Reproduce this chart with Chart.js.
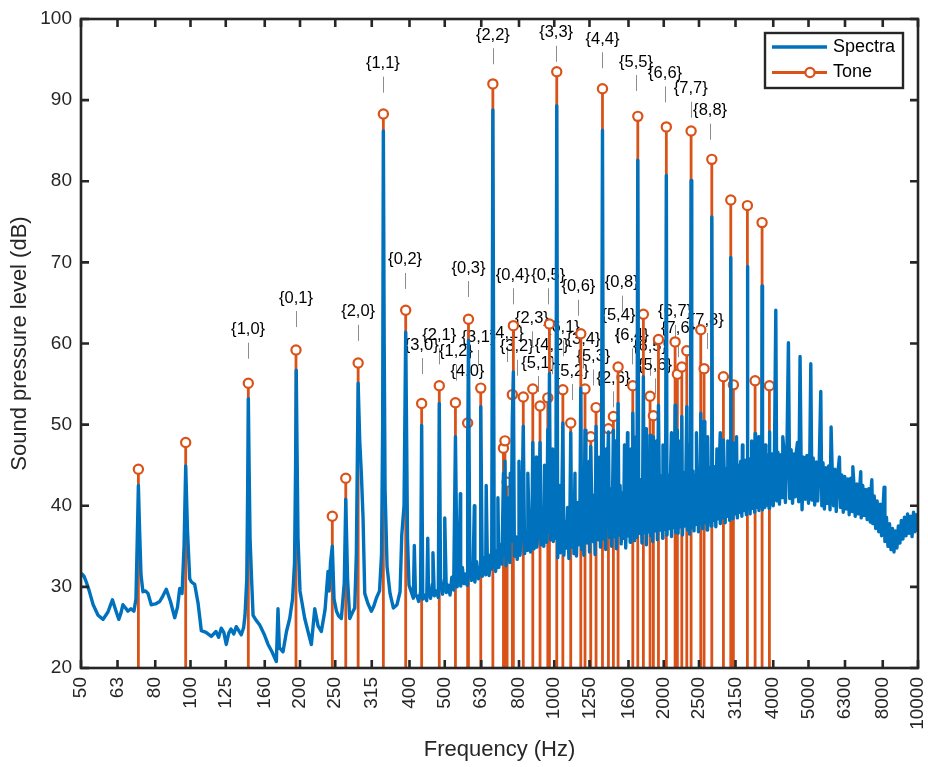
<!DOCTYPE html>
<html>
<head>
<meta charset="utf-8">
<script src="https://cdn.jsdelivr.net/npm/chart.js@4.4.0/dist/chart.umd.min.js"></script>
<style>
  html, body { margin: 0; padding: 0; background: #fff; }
  canvas { display: block; }
</style>
</head>
<body>
<canvas id="chart" width="928" height="767"></canvas>
<script>
// third-octave tick marks on the frequency axis
const xTicks = [50, 63, 80, 100, 125, 160, 200, 250, 315, 400, 500, 630, 800, 1000, 1250, 1600, 2000, 2500, 3150, 4000, 5000, 6300, 8000, 10000];

// spectrum below ~415 Hz, traced point by point [Hz, dB]
const spectraLow = [
  [50,31.4],[50.3,31.6],[51,31.3],[51.7,30.6],[52.6,29.6],[54.0,27.8],[55.7,26.5],[57.5,26.0],[59.3,26.9],[61.0,28.4],
  [62.2,27.2],[63.5,26.0],[64.4,26.8],[65.2,27.8],[66.3,27.4],[67.3,27.0],[68.6,27.3],[69.9,27.0],[70.8,28.5],[71.4,36],
  [71.9,42.5],[72.4,37.5],[73.1,31.5],[74.0,29.4],[75.2,29.5],[76.4,29.2],[78.0,27.8],[80.1,27.9],[82.3,28.2],[84.0,28.9],
  [85.8,29.7],[88.1,28.2],[90.5,26.2],[92.1,27.5],[93.4,29.8],[94.8,29.2],[96.0,35],[97.0,44.9],[98.1,37],[99.5,31.0],
  [100.6,30.6],[102.7,30.3],[104.9,28.0],[107.1,24.6],[110.3,24.4],[114.1,23.9],[117.5,24.5],[119.5,23.8],[121.5,24.9],[123.5,24.4],
  [125.4,22.9],[127.4,24.3],[129.2,24.8],[131.5,24.2],[133.6,25.1],[135.7,24.6],[137.9,24.1],[140.0,25.0],[141.2,26.5],[142.8,31],
  [143.6,42],[144.2,53.2],[145.0,44],[145.8,36],[147.2,31.0],[148.6,26.5],[151.4,25.9],[155.0,25.3],[159.3,24.2],[163.4,22.9],
  [167.5,22.0],[172.2,20.8],[174.0,27.3],[175.5,22.5],[179.6,22.0],[183.6,24.5],[187.4,26.1],[190.8,28.5],[193.2,33],[194.5,45],
  [195.3,56.7],[196.3,47],[197.5,36],[200.0,29.5],[206.1,26.1],[210.4,24.5],[214.9,22.9],[219.6,27.3],[224.2,25.2],[228.9,24.5],
  [234.4,27.2],[238.8,31.9],[240.5,29.5],[242.6,33.0],[245.4,35.0],[248.1,28.5],[252.0,27.0],[255.5,26.4],[259.8,26.1],[264.7,30.5],
  [267.2,40.8],[270.3,31],[274.0,26.1],[278.5,26.8],[282.8,27.4],[285.7,34],[289,55.1],[291.9,48],[294.9,44.0],[298.1,38.5],
  [301.3,29.2],[307.7,27.9],[314.2,27.0],[319,27.6],[324.2,28.6],[330.9,29.5],[335.1,34],[337.5,50],[339,86.2],[340.8,60],
  [342.7,42],[347.0,32.5],[353.6,29.2],[361.1,27.4],[369.6,27.8],[376.8,29.4],[380.9,36.4],[386.4,40],[390.5,61.4],[395,36],
  [398.8,30.2],[405,29.3],[409.8,28.6],[412.4,35.1],[415.5,28.9]
];

// broadband floor above 415 Hz [Hz, dB]
const spectraFloor = [
  [419,28.9],[424,28.2],[429,29.4],[435,28.5],[440,29.0],[446,28.3],[451,29.6],[457,28.6],[462,30.3],[468,28.9],
  [474,29.5],[480,28.7],[487,30.4],[493,29.1],[499,30.9],[505,29.3],[511,30.2],[517,29.0],[523,31.2],[529,29.6],
  [541,30.0],[547,31.8],[553,30.1],[559,32.4],[565,30.4],[571,31.6],[576,30.2],[586,32.6],[592,30.8],[598,31.9],
  [605,30.6],[612,33.1],[619,31.0],[625,32.4],[634,31.3],[641,33.6],[648,31.5],[655,32.8],[662,31.4],[669,34.0],
  [673,32.2],[684,33.7],[690,31.9],[697,34.5],[704,32.4],[711,35.2],[718,32.8],[729,33.9],[737,32.6],[748,34.8],
  [755,33.0],[761,35.6],[777,33.8],[784,36.2],[791,33.4],[798,35.7],[805,33.9],[813,36.6],[829,34.1],[837,36.8],
  [845,34.5],[853,37.2],[861,34.3],[868,36.5],[880,34.7],[888,37.4],[896,34.9],[905,37.9],[920,35.2],[928,37.2],
  [936,35.0],[945,38.1],[953,35.5],[964,36.8],[977,35.8],[985,38.4],[994,35.6],[1004,38.0],[1010,36.0],
  [1022,33.6],[1030,38.4],[1040,34.2],[1048,39.3],[1063,33.9],[1071,38.1],[1080,34.8],[1088,39.8],[1097,33.5],[1104,38.6],
  [1117,34.9],[1125,40.1],[1133,34.1],[1142,38.9],[1151,33.8],[1160,40.4],[1168,35.2],[1176,39.3],[1190,34.6],[1198,40.6],
  [1206,33.9],[1222,39.8],[1231,35.4],[1240,41.0],[1250,34.3],[1268,40.2],[1277,35.6],[1286,41.3],[1295,34.0],[1311,40.5],
  [1320,35.8],[1330,41.6],[1340,34.9],[1348,40.7],[1366,35.9],[1375,41.9],[1385,34.6],[1395,41.0],[1418,36.1],[1428,42.1],
  [1438,35.0],[1446,40.9],[1462,36.2],[1473,42.3],[1483,34.7],[1490,41.3],[1507,36.4],[1517,42.5],[1528,35.3],[1539,41.6],
  [1550,36.0],[1561,42.7],[1572,34.8],[1583,41.8],[1594,36.3],[1606,42.9],[1617,35.5],[1629,42.0],[1636,36.5],[1652,43.0],
  [1663,35.7],[1675,42.2],[1687,36.1],[1706,42.4],[1718,36.6],[1730,43.2],[1742,35.4],[1750,42.5],[1767,36.7],[1779,43.3],
  [1792,35.2],[1805,42.6],[1818,36.8],[1826,43.0],[1843,36.3],[1856,43.5],[1865,35.6],[1882,42.8],[1895,36.9],[1908,43.6],
  [1921,35.8],[1944,43.0],[1958,37.0],[1972,43.7],[1986,36.0],[2000,43.1],[2014,37.1],[2024,43.4],[2042,36.4],[2057,43.8],
  [2071,37.2],[2086,43.2],[2101,36.2],[2116,43.9],[2131,37.3],[2140,43.0],[2158,36.7],[2168,43.6],[2190,36.6],[2205,44.0],
  [2221,37.4],[2232,43.3],[2252,36.4],[2268,44.1],[2284,37.5],[2300,43.5],[2324,37.0],[2340,44.2],[2356,36.5],[2368,43.6],
  [2388,37.3],[2405,44.3],[2422,36.9],[2440,43.7],[2457,37.7],[2474,44.4],[2492,36.8],[2510,43.9],[2520,37.8],[2540,44.5],
  [2558,37.2],[2572,44.0],[2594,37.9],[2612,44.6],[2631,37.0],[2650,44.1],[2669,38.0],[2688,44.7],[2700,37.5],[2722,44.2],
  [2742,38.2],[2761,44.8],[2781,37.4],[2801,44.3],[2821,38.4],[2841,44.9],[2861,37.8],[2882,44.4],[2902,38.5],[2930,45.0],
  [2951,37.9],[2972,44.6],[2993,38.7],[3015,45.1],[3036,38.2],[3048,44.7],[3066,38.9],[3088,45.2],[3100,38.4],[3120,44.8],
  [3142,39.0],[3164,45.3],[3187,38.5],[3210,45.0],[3233,39.2],[3256,45.5],[3279,38.7],[3302,45.1],[3326,39.4],[3350,45.6],
  [3374,38.9],[3388,45.2],[3406,39.6],[3430,45.8],[3455,39.0],[3480,45.3],[3505,39.7],[3530,45.9],[3556,39.2],[3576,45.5],
  [3602,39.8],[3628,46.0],[3654,39.4],[3680,45.6],[3706,39.9],[3720,46.1],[3738,39.5],[3765,46.2],[3792,39.8],[3819,45.8],
  [3846,40.1],[3874,46.3],[3895,39.7],[3915,46.0],[3943,40.2],[3971,46.4],[4000,40.0],
  [4030,46.0],[4090,40.6],[4120,46.6],[4160,40.2],[4200,46.3],[4230,41.0],[4280,46.8],[4320,40.4],[4360,46.2],[4440,40.9],
  [4480,46.9],[4520,40.3],[4560,46.4],[4600,41.1],[4630,46.7],[4700,40.5],[4770,46.3],[4800,39.5],[4850,46.0],[4900,40.8],
  [4950,46.2],[5000,40.3],[5040,45.8],[5110,40.7],[5150,45.9],[5200,40.1],[5250,45.4],[5300,40.6],[5350,45.1],[5440,40.0],
  [5480,45.3],[5530,39.6],[5580,44.7],[5630,40.3],[5680,44.9],[5730,39.5],[5810,44.3],[5860,40.0],[5910,44.5],[5960,39.3],
  [6020,44.0],[6120,39.8],[6170,43.8],[6230,39.2],[6290,43.6],[6350,39.6],[6410,43.3],[6470,38.9],[6530,43.4],[6600,39.3],
  [6660,42.9],[6720,38.7],[6790,42.7],[6850,39.0],[6920,42.4],[6980,38.5],[7050,42.5],[7110,38.8],[7180,42.0],[7250,38.3],
  [7320,42.1],[7390,38.0],[7420,41.6],[7510,37.8],[7580,41.2],[7650,37.2],[7720,40.6],[7800,36.8],[7870,40.2],[7940,36.3],
  [8010,39.5],[8110,35.6],[8190,38.6],[8270,35.0],[8350,37.8],[8430,34.6],[8510,37.2],[8590,34.3],[8670,36.9],[8750,34.8],
  [8830,37.5],[8920,35.4],[9000,38.2],[9090,35.9],[9180,38.6],[9270,36.3],[9360,39.0],[9450,36.6],[9540,38.7],[9630,36.2],
  [9720,39.2],[9810,36.8],[9900,38.9],[9960,37.0],[10000,38.4]
];

// narrow spectral peaks above 415 Hz [Hz, dB]
const spectraPeaks = [
  [432,49.9],[483,52.6],[535,48.5],[578,46.0],[581,60.4],[628,52.2],[678,88.8],[725,44.0],[732,45.5],[742,41.0],
  [767,50.6],[772,56.5],[822,49.8],[873,47.8],[914,47.8],[960,49.4],[970,56.3],[1016,89.3],[1056,50.2],[1110,49.0],
  [1183,54.5],[1215,49.3],[1260,47.3],[1303,49.8],[1357,86.3],[1409,49.1],[1454,49.3],[1498,52.6],[1644,51.4],[1697,82.6],
  [1758,55.9],[1834,48.7],[1873,48.5],[1934,52.4],[2033,80.7],[2149,52.4],[2180,49.3],[2242,51.0],[2314,52.2],[2378,80.1],
  [2528,51.4],[2582,50.4],[2711,75.6],[2918,48.1],[3057,70.6],[3108,47.7],[3396,69.5],[3566,48.9],[3727,67.1],[3904,49.1],
  [4065,64.1],[4249,48.5],[4403,60.1],[4662,47.8],[4740,58.4],[5073,57.5],[5404,54.1],[5769,49.7],[6081,46.0],[7465,43.2],
  [8070,42.3],
  [449,36.0],[464,34.2],[500,38.5],[552,41.5],[603,40.0],[650,42.5],[700,41.0],[757,44.0],[800,45.5],[846,44.0],
  [893,46.0],[940,45.0],[990,47.0],[1036,42.5],[1140,44.0],[1248,45.5],[1330,46.0],[1390,47.0],[1470,48.0],[1560,47.5],
  [1590,49.0],[1625,47.0],[1680,48.5],[1790,49.5],[1910,48.0],[1990,47.5],[2100,49.0],[2220,48.0],[2350,47.5],[2460,49.0],
  [2640,48.5],[2800,47.0],[2860,49.0],[3000,48.0],[3170,48.5],[3290,47.5],[3490,48.0],[3650,48.5],[3800,47.5],[6620,44.8],
  [6960,44.2]
];

// tonal components
const toneHz = [71.9, 97.0, 144.2, 195.0, 245.4, 267.2, 289, 339, 390.5, 432, 483, 535, 578, 581, 628, 678, 725, 732, 742, 767,
  772, 822, 873, 914, 960, 970, 1016, 1056, 1110, 1183, 1215, 1260, 1303, 1357, 1409, 1454, 1498, 1644, 1697, 1758,
  1834, 1873, 1934, 2033, 2149, 2180, 2242, 2314, 2378, 2528, 2582, 2711, 2918, 3057, 3108, 3396, 3566, 3727, 3904];
const toneDb = [44.5, 47.8, 55.1, 59.2, 38.7, 43.4, 57.6, 88.3, 64.1, 52.6, 54.8, 52.7, 50.2, 63.0, 54.5, 92.0, 47.1, 48.0, 42.9, 53.7,
  62.2, 53.4, 54.4, 52.3, 53.3, 62.4, 93.5, 54.3, 50.2, 61.2, 54.4, 48.5, 52.1, 91.4, 49.5, 51.0, 57.1, 54.8, 88.0, 63.6,
  53.5, 51.1, 60.5, 86.7, 60.2, 56.2, 57.1, 59.1, 86.2, 61.7, 56.9, 82.7, 55.9, 77.7, 54.9, 77.0, 55.4, 74.9, 54.8];

// mode labels, anchored at the text centre
const labelText = ['{1,0}', '{0,1}', '{2,0}', '{1,1}', '{0,2}', '{3,0}', '{2,1}', '{1,2}', '{0,3}', '{3,1}', '{4,0}', '{2,2}', '{4,1}',
  '{0,4}', '{3,2}', '{2,3}', '{5,1}', '{0,5}', '{4,2}', '{3,3}', '{6,1}', '{5,2}', '{0,6}', '{3,4}', '{5,3}', '{4,4}',
  '{2,6}', '{5,4}', '{0,8}', '{6,4}', '{5,5}', '{6,5}', '{5,6}', '{6,6}', '{6,7}', '{7,6}', '{7,7}', '{7,8}', '{8,8}'];
const labelHz = [144, 195, 289, 338, 389, 432, 483, 537, 581, 619, 577, 678, 740, 769, 789, 868, 904, 963, 984, 1012,
  1056, 1117, 1165, 1203, 1281, 1357, 1454, 1501, 1533, 1634, 1678, 1834, 1893, 2017, 2149, 2190, 2373, 2627, 2682];
const labelDb = [61.7, 65.6, 63.9, 94.5, 70.3, 59.8, 61.0, 59.0, 69.3, 60.8, 56.5, 98.0, 61.3, 68.4, 59.6, 63.1, 57.6, 68.4, 59.8, 98.3,
  62.0, 56.6, 67.0, 60.5, 58.4, 97.5, 55.7, 63.5, 67.5, 61.0, 94.7, 59.6, 57.3, 93.3, 63.9, 61.9, 91.4, 62.9, 88.7];

const FONT = '"Liberation Sans", Arial, Helvetica, sans-serif';
const AXIS = '#262626';
const BLUE = '#0072BD';
const ORANGE = '#D95319';

const spectra = spectraLow.concat(spectraFloor, spectraPeaks)
  .sort((a, b) => a[0] - b[0])
  .map(p => ({ x: p[0], y: p[1] }));

// each tone is a stem from the bottom of the axis, split by a gap
const stems = [];
toneHz.forEach((f, i) => {
  stems.push({ x: f, y: 20 }, { x: f, y: toneDb[i] }, { x: f, y: null });
});

const decorations = {
  id: 'decorations',
  beforeDatasetsDraw(chart) {
    const { ctx, scales: { x, y } } = chart;
    ctx.save();
    ctx.font = '16.5px ' + FONT;
    ctx.textAlign = 'center';
    ctx.textBaseline = 'middle';
    labelText.forEach((t, i) => {
      const px = x.getPixelForValue(labelHz[i]);
      const py = y.getPixelForValue(labelDb[i]);
      ctx.fillStyle = '#000';
      ctx.fillText(t, px, py);
      ctx.strokeStyle = '#8c8c8c';
      ctx.lineWidth = 1;
      ctx.beginPath();
      ctx.moveTo(Math.round(px) + 0.5, py + 13);
      ctx.lineTo(Math.round(px) + 0.5, py + 29);
      ctx.stroke();
    });
    ctx.restore();
  },
  afterDatasetsDraw(chart) {
    const { ctx, chartArea: a, scales: { x, y } } = chart;
    ctx.save();
    ctx.strokeStyle = AXIS;
    ctx.lineWidth = 2.6;
    ctx.strokeRect(a.left, a.top, a.right - a.left, a.bottom - a.top);
    ctx.beginPath();
    xTicks.forEach(v => {
      const px = x.getPixelForValue(v);
      ctx.moveTo(px, a.bottom); ctx.lineTo(px, a.bottom - 8);
      ctx.moveTo(px, a.top); ctx.lineTo(px, a.top + 8);
    });
    for (let v = 20; v <= 100; v += 10) {
      const py = y.getPixelForValue(v);
      ctx.moveTo(a.left, py); ctx.lineTo(a.left + 8, py);
      ctx.moveTo(a.right, py); ctx.lineTo(a.right - 8, py);
    }
    ctx.stroke();
    ctx.restore();
  },
  afterDraw(chart) {
    const { ctx, chartArea: a } = chart;
    ctx.save();
    // legend
    ctx.fillStyle = '#fff';
    ctx.fillRect(765, 33, 138, 55);
    ctx.strokeStyle = AXIS;
    ctx.lineWidth = 2.4;
    ctx.strokeRect(765, 33, 138, 55);
    ctx.lineWidth = 3.4;
    ctx.strokeStyle = BLUE;
    ctx.beginPath(); ctx.moveTo(772, 47); ctx.lineTo(827, 47); ctx.stroke();
    ctx.lineWidth = 2.8;
    ctx.strokeStyle = ORANGE;
    ctx.beginPath(); ctx.moveTo(772, 72.5); ctx.lineTo(827, 72.5); ctx.stroke();
    ctx.fillStyle = '#fff';
    ctx.lineWidth = 2.2;
    ctx.beginPath(); ctx.arc(810, 72.5, 4.6, 0, Math.PI * 2); ctx.fill(); ctx.stroke();
    ctx.fillStyle = '#000';
    ctx.font = '18px ' + FONT;
    ctx.textAlign = 'left';
    ctx.textBaseline = 'middle';
    ctx.fillText('Spectra', 833, 47);
    ctx.fillText('Tone', 833, 72.5);
    // axis titles
    ctx.fillStyle = AXIS;
    ctx.font = '22px ' + FONT;
    ctx.textAlign = 'center';
    ctx.fillText('Frequency (Hz)', (a.left + a.right) / 2, 750);
    ctx.translate(20, (a.top + a.bottom) / 2);
    ctx.rotate(-Math.PI / 2);
    ctx.fillText('Sound pressure level (dB)', 0, 0);
    ctx.restore();
  }
};

new Chart(document.getElementById('chart'), {
  type: 'line',
  data: {
    datasets: [
      {
        label: 'Spectra',
        data: spectra,
        borderColor: BLUE,
        borderWidth: 3.4,
        borderJoinStyle: 'round',
        pointRadius: 0,
        tension: 0,
        order: 0
      },
      {
        label: 'Tone',
        data: stems,
        borderColor: ORANGE,
        borderWidth: 2.8,
        spanGaps: false,
        pointRadius: c => (c.dataIndex % 3 === 1 ? 4.6 : 0),
        pointBackgroundColor: '#fff',
        pointBorderColor: ORANGE,
        pointBorderWidth: 2.2,
        tension: 0,
        order: 1
      }
    ]
  },
  options: {
    responsive: false,
    animation: false,
    layout: { padding: { left: 0, right: 10, top: 19, bottom: 0 } },
    plugins: { legend: { display: false }, tooltip: { enabled: false } },
    scales: {
      x: {
        type: 'logarithmic',
        min: 50,
        max: 10000,
        afterBuildTicks: s => { s.ticks = xTicks.map(v => ({ value: v })); },
        afterFit: s => { s.height = 99; s.paddingLeft = 0; s.paddingRight = 0; },
        grid: { display: false, drawTicks: false },
        border: { display: false },
        ticks: {
          autoSkip: false,
          minRotation: 90,
          maxRotation: 90,
          padding: 9,
          color: AXIS,
          font: { family: FONT, size: 19, lineHeight: 1 },
          callback: v => String(v)
        }
      },
      y: {
        min: 20,
        max: 100,
        afterFit: s => { s.width = 81; s.paddingTop = 0; s.paddingBottom = 0; },
        grid: { display: false, drawTicks: false },
        border: { display: false },
        ticks: {
          stepSize: 10,
          padding: 9,
          color: AXIS,
          font: { family: FONT, size: 19, lineHeight: 1 }
        }
      }
    }
  },
  plugins: [decorations]
});
</script>
</body>
</html>
